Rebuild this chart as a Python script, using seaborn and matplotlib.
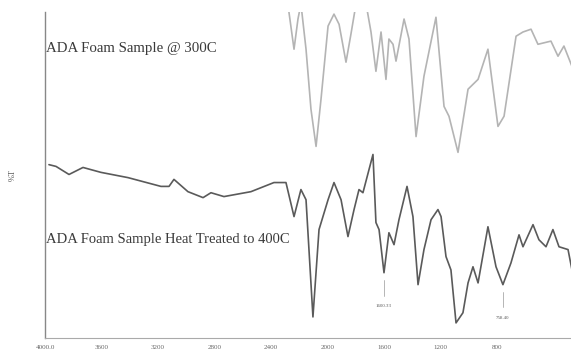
import matplotlib
matplotlib.use("Agg")
import matplotlib.pyplot as plt
import seaborn as sns
import pandas as pd

# ---- data ----
# lower trace: ADA foam sample heat treated to 400C
low_wn = [3972, 3922, 3830, 3731, 3604, 3412, 3179, 3122, 3087, 2988, 2881, 2825,
          2733, 2542, 2379, 2294, 2237, 2188, 2152, 2103, 2060, 1996, 1954, 1904,
          1855, 1812, 1777, 1749, 1678, 1657, 1635, 1600, 1565, 1529, 1494, 1437,
          1395, 1359, 1317, 1267, 1218, 1196, 1161, 1126, 1090, 1041, 1005, 970,
          934, 864, 807, 758, 701, 644, 616, 545, 503, 453, 404, 361, 297, 269]
low_t = [45.1, 44.6, 42.3, 44.3, 42.9, 41.4, 38.9, 38.9, 40.9, 37.4, 35.7, 37.1,
         36.0, 37.4, 40.0, 40.0, 30.3, 38.0, 35.1, 1.7, 26.6, 35.1, 40.0, 35.1,
         24.6, 32.3, 38.0, 37.1, 48.0, 28.6, 26.6, 14.3, 25.7, 22.3, 29.4, 38.9,
         30.3, 10.9, 20.9, 29.4, 32.3, 30.3, 18.9, 15.1, 0.0, 2.9, 11.4, 16.0,
         11.4, 27.4, 16.0, 10.9, 17.1, 25.1, 21.7, 28.0, 23.7, 21.7, 26.6, 21.7,
         20.9, 15.1]

# upper trace: ADA foam sample @ 300C (mostly above the frame on the left)
up_wn = [2294, 2273, 2237, 2209, 2188, 2152, 2117, 2081, 2046, 1996, 1954, 1918,
         1869, 1834, 1798, 1727, 1692, 1657, 1621, 1586, 1565, 1536, 1515, 1458,
         1423, 1373, 1317, 1232, 1175, 1140, 1076, 1005, 934, 864, 793, 750, 665,
         616, 559, 510, 418, 368, 326, 269]
up_t = [93.7, 88.6, 78.0, 86.6, 90.9, 78.0, 60.9, 50.3, 63.7, 84.6, 88.0, 85.1,
        74.3, 82.3, 90.9, 90.9, 82.9, 71.7, 82.9, 69.4, 80.9, 79.4, 74.6, 86.6,
        80.9, 53.1, 70.3, 87.1, 61.7, 58.9, 48.6, 66.6, 69.4, 78.0, 56.0, 58.9,
        81.7, 82.9, 83.7, 79.4, 80.3, 76.0, 78.9, 73.1]

x_ticks = [4000, 3600, 3200, 2800, 2400, 2000, 1600, 1200, 800]
x_tick_labels = ["4000.0", "3600", "3200", "2800", "2400", "2000", "1600", "1200", "800"]
y_ticks = [0, 10, 20, 30, 40, 50, 60, 70, 80]

peak_wn = [1600, 758]
peak_t = [14.3, 10.9]
peak_labels = ["1600.33", "758.40"]

label_300 = "ADA Foam Sample @ 300C"
label_400 = "ADA Foam Sample Heat Treated to 400C"

# ---- figure ----
sns.set_theme(style="white")
plt.rcParams["font.family"] = ["Liberation Serif", "DejaVu Serif"]

fig = plt.figure(figsize=(5.71, 3.54), dpi=100)
ax = fig.add_axes([45 / 571, 16 / 354, 1 - 45 / 571, 326 / 354])

df_low = pd.DataFrame({"wn": low_wn, "t": low_t})
df_up = pd.DataFrame({"wn": up_wn, "t": up_t})
sns.lineplot(data=df_up, x="wn", y="t", ax=ax, color="#b4b4b4", linewidth=1.2,
             estimator=None)
sns.lineplot(data=df_low, x="wn", y="t", ax=ax, color="#5a5a5a", linewidth=1.2,
             estimator=None)

ax.set_xlim(4000, 276)
ax.set_ylim(-4.3, 88.6)
ax.set_xticks(x_ticks)
ax.set_xticklabels(x_tick_labels)
ax.set_yticks(y_ticks)
ax.set_yticklabels([])
ax.tick_params(axis="x", direction="in", length=3, width=0.6, colors="#888888",
               labelsize=5, labelcolor="#666666", pad=5)
ax.tick_params(axis="y", direction="out", length=2.5, width=0.6, colors="#999999")
for s in ["top", "right"]:
    ax.spines[s].set_visible(False)
ax.spines["left"].set_color("#888888")
ax.spines["bottom"].set_color("#aaaaaa")
ax.spines["left"].set_linewidth(1.0)
ax.spines["bottom"].set_linewidth(0.8)
ax.set_xlabel("")
ax.set_ylabel("%T", fontsize=6, color="#555555", labelpad=14)

# peak annotations
for w, t, lab in zip(peak_wn, peak_t, peak_labels):
    ax.plot([w, w], [t - 2.0, t - 6.5], color="#aaaaaa", linewidth=0.6)
    ax.text(w, t - 9.5, lab, fontsize=3.5, color="#555555", ha="center", va="center")

ax.text(3990, 78.3, label_300, fontsize=10.7, color="#3a3a3a", ha="left", va="center")
ax.text(3990, 23.7, label_400, fontsize=10.5, color="#3a3a3a", ha="left", va="center")

fig.savefig("out.png", dpi=100)
